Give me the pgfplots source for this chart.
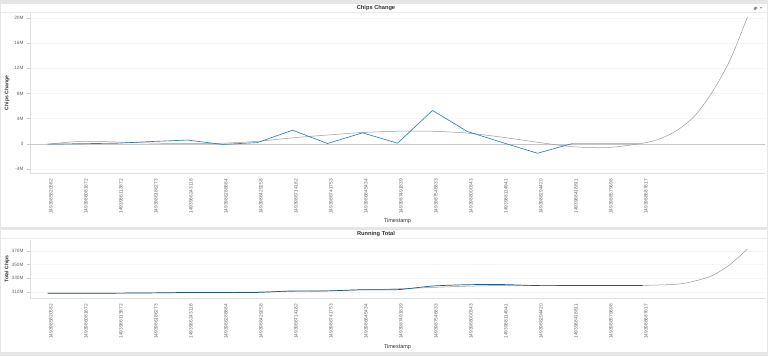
\documentclass[border=0pt]{standalone}
\usepackage{pgfplots}
\pgfplotsset{compat=1.18}
\usepackage{fontspec}
\setmainfont{Liberation Sans}
\newfontfamily\symfont{DejaVu Sans}
\definecolor{bgray}{HTML}{E6E6E6}
\definecolor{sblue}{HTML}{2F7EBC}
\definecolor{tgray}{HTML}{9A9A9A}
\definecolor{lblgray}{HTML}{666666}
\definecolor{ttl}{HTML}{333333}
\begin{document}
\begin{tikzpicture}[x=1pt,y=1pt]
\useasboundingbox (0,0) rectangle (768,-356);
\fill[bgray] (0,0) rectangle (768,-356);
% cards
\fill[white] (1,-4) rectangle (767,-227);
\fill[white] (1,-229.5) rectangle (767,-351.5);
\draw[gray!15,line width=0.6pt] (1,-12.5) -- (767,-12.5);
\draw[gray!15,line width=0.6pt] (1,-238.5) -- (767,-238.5);
\node[font=\bfseries\fontsize{5.7}{6}\selectfont,text=ttl] at (376,-7.8) {Chips Change};
\node[font=\bfseries\fontsize{5.7}{6}\selectfont,text=ttl] at (376,-233.8) {Running Total};
\draw[gray, line width=0.4pt, -stealth] (754,-9.5) -- (756.5,-7);
\draw[gray, line width=0.4pt, -stealth] (756.5,-7) -- (754,-9.5);
\draw[gray, line width=0.4pt] (754,-9.5) -- (756.5,-7);
\node[font=\symfont\fontsize{4}{4}\selectfont,text=gray] at (761,-8) {▾};

\pgfplotsset{
  myaxis/.style={
    scale only axis,
    width=735pt,
    xmin=-0.5, xmax=20.5,
    xtick={0,...,17},
    xticklabels={1493985820582,1493986081672,1493986113872,1493986186273,1493986243118,1493986288884,1493986429258,1493986714182,1493986741753,1493986845434,1493987491839,1493987546833,1493988000343,1493988114941,1493988294420,1493988418811,1493988579698,1493988687617},
    /pgf/number format/assume math mode=true,
    axis x line*=bottom, axis y line*=left,
    axis line style={gray!25, line width=0.5pt},
    x axis line style={-}, y axis line style={-},
    xticklabel style={rotate=90, anchor=east, font=\fontsize{4.8}{5}\selectfont, text=lblgray, yshift=-3.5pt},
    yticklabel style={font=\fontsize{4.7}{5}\selectfont, text=lblgray, xshift=-0.5pt},
    x tick style={draw=none},
    y tick style={gray!40, line width=0.4pt},
    tick align=outside,
    major tick length=2.5pt,
    ymajorgrids,
    grid style={gray!8, line width=0.4pt},
    xlabel={Timestamp},
    xlabel style={font=\fontsize{5.5}{6}\selectfont, text=ttl, at={(axis description cs:0.5,0)}, anchor=center},
    ylabel style={font=\bfseries\fontsize{5.1}{6}\selectfont, text=ttl, at={(axis description cs:-0.0313,0.5)}, anchor=center, rotate=0},
    clip=false,
  }
}

\begin{axis}[myaxis, at={(30pt,-173pt)}, anchor=south west, height=160pt,
  ymin=-4.64, ymax=20.8,
  ytick={-4,0,4,8,12,16,20},
  yticklabels={-4M,0,4M,8M,12M,16M,20M},
  extra y ticks={0}, extra y tick labels={},
  extra y tick style={grid style={gray!45, line width=0.6pt}, major tick length=2.5pt},
  xlabel style={yshift=-48pt},
  ylabel={Chips Change}]
\addplot[tgray, line width=0.5pt, smooth, tension=0.5] coordinates {
(0,-0.05)(1,0.4)(2,0.28)(3,0.12)(4,0.03)(5,0.1)(6,0.4)(7,0.95)(8,1.4)(9,1.8)(10,2.0)(11,2.0)(12,1.7)(13,1.05)(14,0.25)(15,-0.45)(16,-0.6)(17,0.1)(17.5,0.8)(18,2.2)(18.5,4.5)(19,8.3)(19.5,13.3)(20,20.2)};
\addplot[sblue, line width=0.65pt] coordinates {
(0,-0.05)(1,0.02)(2,0.1)(3,0.37)(4,0.6)(5,-0.1)(6,0.2)(7,2.17)(8,0.05)(9,1.75)(10,0.1)(11,5.3)(12,1.95)(13,0.2)(14,-1.5)(15,0.05)};
\addplot[sblue!45, line width=0.65pt] coordinates {(15,0.05)(16,0.05)(17,0.05)};
\end{axis}

\begin{axis}[myaxis, at={(30pt,-298pt)}, anchor=south west, height=58pt,
  ymin=301, ymax=386,
  ytick={310,330,350,370},
  yticklabels={310M,330M,350M,370M},
  xlabel style={yshift=-49pt},
  ylabel={Total Chips}]
\addplot[tgray, line width=0.5pt, smooth, tension=0.5] coordinates {
(0,308.2)(2,308.3)(4,308.8)(6,309.8)(8,311.5)(10,314.5)(11,316.5)(12,318.3)(13,319.3)(14,319.6)(15,319.5)(16,319.3)(17,319.5)(18,321.3)(18.5,326)(19,334)(19.5,350)(20,373)};
\addplot[sblue!70!black, line width=0.7pt, smooth, tension=0.4] coordinates {
(0,308.0)(1,308.02)(2,308.12)(3,308.49)(4,309.09)(5,308.99)(6,309.19)(7,311.36)(8,311.41)(9,313.16)(10,313.26)(11,318.56)(12,320.51)(13,320.71)(14,319.21)(15,319.26)(16,319.31)(17,319.36)};
\end{axis}
\end{tikzpicture}
\end{document}
